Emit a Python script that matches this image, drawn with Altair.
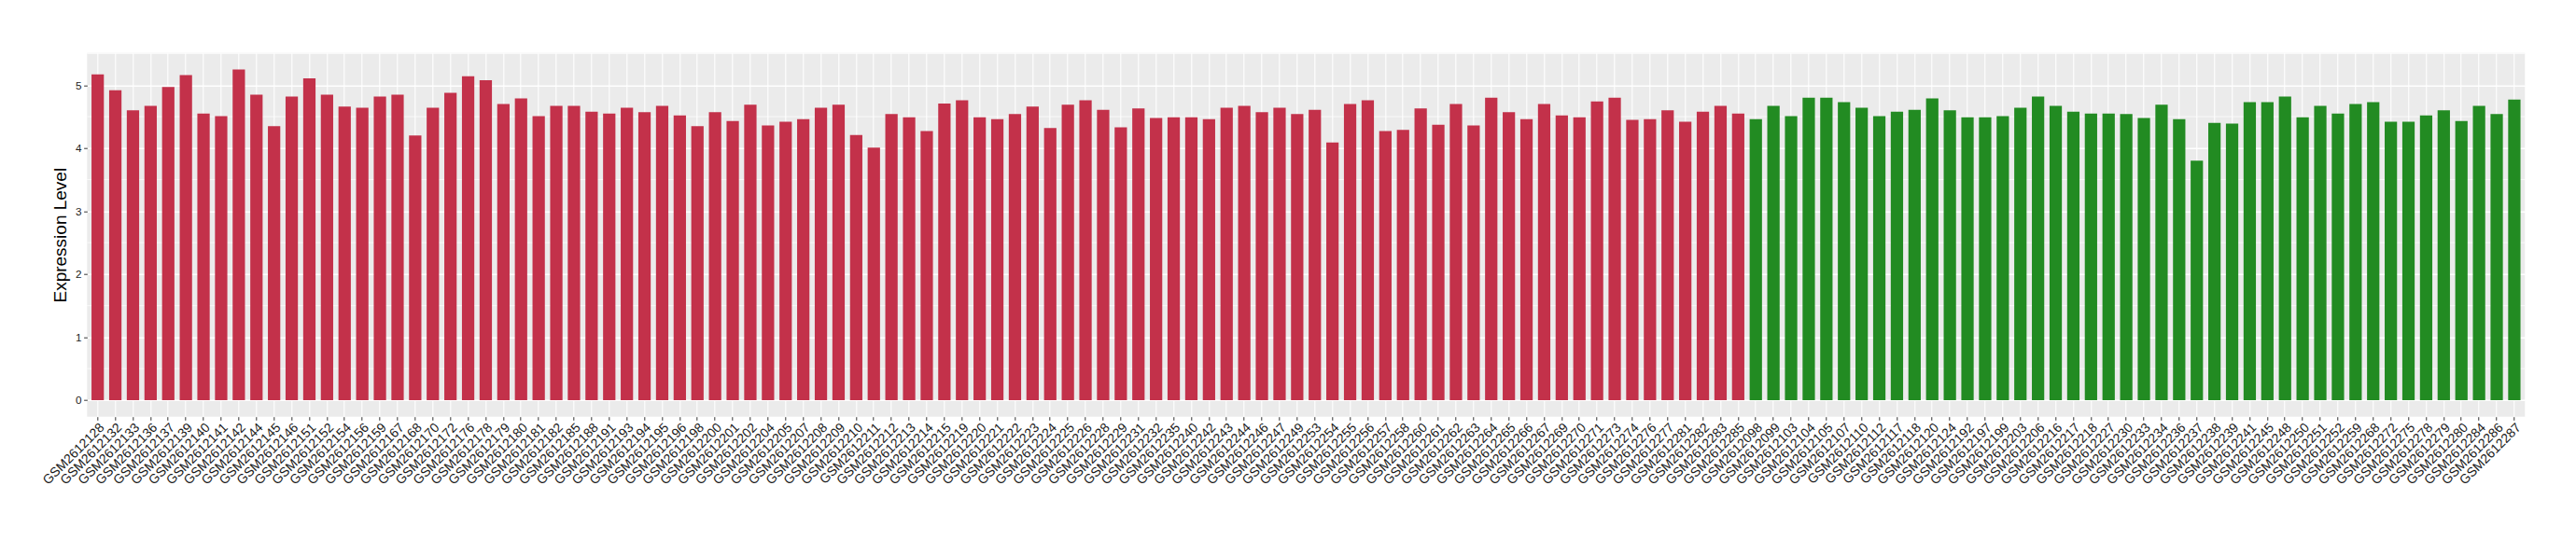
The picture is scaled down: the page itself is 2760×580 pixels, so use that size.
import altair as alt
import pandas as pd

# ---- data ----
red_samples = [
    "GSM2612128", "GSM2612132", "GSM2612133", "GSM2612136", "GSM2612137", "GSM2612139", "GSM2612140",
    "GSM2612141", "GSM2612142", "GSM2612144", "GSM2612145", "GSM2612146", "GSM2612151", "GSM2612152",
    "GSM2612154", "GSM2612156", "GSM2612159", "GSM2612167", "GSM2612168", "GSM2612170", "GSM2612172",
    "GSM2612176", "GSM2612178", "GSM2612179", "GSM2612180", "GSM2612181", "GSM2612182", "GSM2612185",
    "GSM2612188", "GSM2612191", "GSM2612193", "GSM2612194", "GSM2612195", "GSM2612196", "GSM2612198",
    "GSM2612200", "GSM2612201", "GSM2612202", "GSM2612204", "GSM2612205", "GSM2612207", "GSM2612208",
    "GSM2612209", "GSM2612210", "GSM2612211", "GSM2612212", "GSM2612213", "GSM2612214", "GSM2612215",
    "GSM2612219", "GSM2612220", "GSM2612221", "GSM2612222", "GSM2612223", "GSM2612224", "GSM2612225",
    "GSM2612226", "GSM2612228", "GSM2612229", "GSM2612231", "GSM2612232", "GSM2612235", "GSM2612240",
    "GSM2612242", "GSM2612243", "GSM2612244", "GSM2612246", "GSM2612247", "GSM2612249", "GSM2612253",
    "GSM2612254", "GSM2612255", "GSM2612256", "GSM2612257", "GSM2612258", "GSM2612260", "GSM2612261",
    "GSM2612262", "GSM2612263", "GSM2612264", "GSM2612265", "GSM2612266", "GSM2612267", "GSM2612269",
    "GSM2612270", "GSM2612271", "GSM2612273", "GSM2612274", "GSM2612276", "GSM2612277", "GSM2612281",
    "GSM2612282", "GSM2612283", "GSM2612285",
]
red_values = [
    5.17, 4.92, 4.60, 4.67, 4.97, 5.16, 4.55, 4.51, 5.25, 4.85, 4.35, 4.82, 5.11, 4.85, 4.66, 4.64,
    4.82, 4.85, 4.20, 4.64, 4.88, 5.14, 5.08,
    4.70, 4.79, 4.51, 4.67, 4.67, 4.58, 4.55, 4.64, 4.57, 4.67, 4.52, 4.35, 4.57, 4.43, 4.69, 4.36,
    4.42, 4.46, 4.64, 4.69, 4.21, 4.01, 4.54,
    4.49, 4.27, 4.71, 4.76, 4.49, 4.46, 4.54, 4.66, 4.32, 4.69, 4.76, 4.61, 4.33, 4.63, 4.48, 4.49,
    4.49, 4.46, 4.64, 4.67, 4.57, 4.64, 4.54,
    4.61, 4.09, 4.70, 4.76, 4.27, 4.29, 4.63, 4.37, 4.70, 4.36, 4.80, 4.57, 4.46, 4.70, 4.52, 4.49,
    4.74, 4.80, 4.45, 4.46, 4.60, 4.42, 4.58,
    4.67, 4.55,
]
green_samples = [
    "GSM2612098", "GSM2612099", "GSM2612103", "GSM2612104", "GSM2612105", "GSM2612107", "GSM2612110",
    "GSM2612112", "GSM2612117", "GSM2612118", "GSM2612120", "GSM2612124", "GSM2612192", "GSM2612197",
    "GSM2612199", "GSM2612203", "GSM2612206", "GSM2612216", "GSM2612217", "GSM2612218", "GSM2612227",
    "GSM2612230", "GSM2612233", "GSM2612234", "GSM2612236", "GSM2612237", "GSM2612238", "GSM2612239",
    "GSM2612241", "GSM2612245", "GSM2612248", "GSM2612250", "GSM2612251", "GSM2612252", "GSM2612259",
    "GSM2612268", "GSM2612272", "GSM2612275", "GSM2612278", "GSM2612279", "GSM2612280", "GSM2612284",
    "GSM2612286", "GSM2612287",
]
green_values = [
    4.46, 4.67, 4.51, 4.80, 4.80, 4.73, 4.64, 4.51, 4.58, 4.61, 4.79, 4.60, 4.49, 4.49, 4.51, 4.64,
    4.82, 4.67, 4.58, 4.55,
    4.55, 4.54, 4.48, 4.69, 4.46, 3.80, 4.40, 4.39, 4.73, 4.73, 4.82, 4.49, 4.67, 4.55, 4.70, 4.73,
    4.42, 4.42, 4.52, 4.60, 4.43, 4.67, 4.54, 4.77,
]
groups = ["Group 1", "Group 2"]
group_colors = ["#C3314A", "#228B22"]
y_ticks = [0, 1, 2, 3, 4, 5]
y_minor = [0.5, 1.5, 2.5, 3.5, 4.5, 5.5]

df = pd.DataFrame({
    "sample": red_samples + green_samples,
    "value": red_values + green_values,
    "group": [groups[0]] * len(red_samples) + [groups[1]] * len(green_samples),
})
minor_df = pd.DataFrame({"value": y_minor})

vmax = max(df["value"])
y_scale = alt.Scale(domain=[-0.05 * vmax, 1.05 * vmax], nice=False, zero=False)

FONT = "Liberation Sans"
W, H = 2612, 390

y_axis = alt.Axis(
    title="Expression Level",
    values=y_ticks,
    grid=True,
    gridColor="white",
    gridWidth=1.4,
    domain=False,
    tickColor="#333333",
    tickSize=3.7,
    labelFontSize=11.7,
    labelColor="#222222",
    labelFont=FONT,
    labelPadding=2.5,
    titleFont=FONT,
    titleFontSize=19,
    titleFontWeight="normal",
    titleColor="black",
    titlePadding=6,
)

minor = alt.Chart(minor_df).mark_rule(color="white", strokeWidth=0.7).encode(
    y=alt.Y("value:Q", scale=y_scale, axis=y_axis)
)

bars = alt.Chart(df).mark_bar().encode(
    x=alt.X(
        "sample:N",
        sort=None,
        scale=alt.Scale(paddingInner=0.3, paddingOuter=0.25),
        axis=alt.Axis(
            title=None,
            grid=True,
            gridColor="white",
            gridWidth=1.1,
            bandPosition=0.5,
            domain=False,
            tickColor="#333333",
            tickSize=3.7,
            labelAngle=-45,
            labelAlign="right",
            labelBaseline="top",
            labelFontSize=14,
            labelColor="#1a1a1a",
            labelFont=FONT,
            labelPadding=0.5,
            labelOffset=0,
            labelOverlap=False,
            labelBound=False,
        ),
    ),
    y=alt.Y("value:Q", scale=y_scale, axis=y_axis),
    color=alt.Color("group:N", scale=alt.Scale(domain=groups, range=group_colors), legend=None),
)

chart = alt.layer(minor, bars).properties(
    width=W,
    height=H,
    autosize=alt.AutoSizeParams(type="none"),
    padding={"left": 85.3, "top": 48.7, "right": 46.7, "bottom": 133},
    background="white",
).configure_view(
    fill="#EBEBEB",
    strokeWidth=0,
)

chart.save("out.html", embed_options={"renderer": "svg", "actions": False})
